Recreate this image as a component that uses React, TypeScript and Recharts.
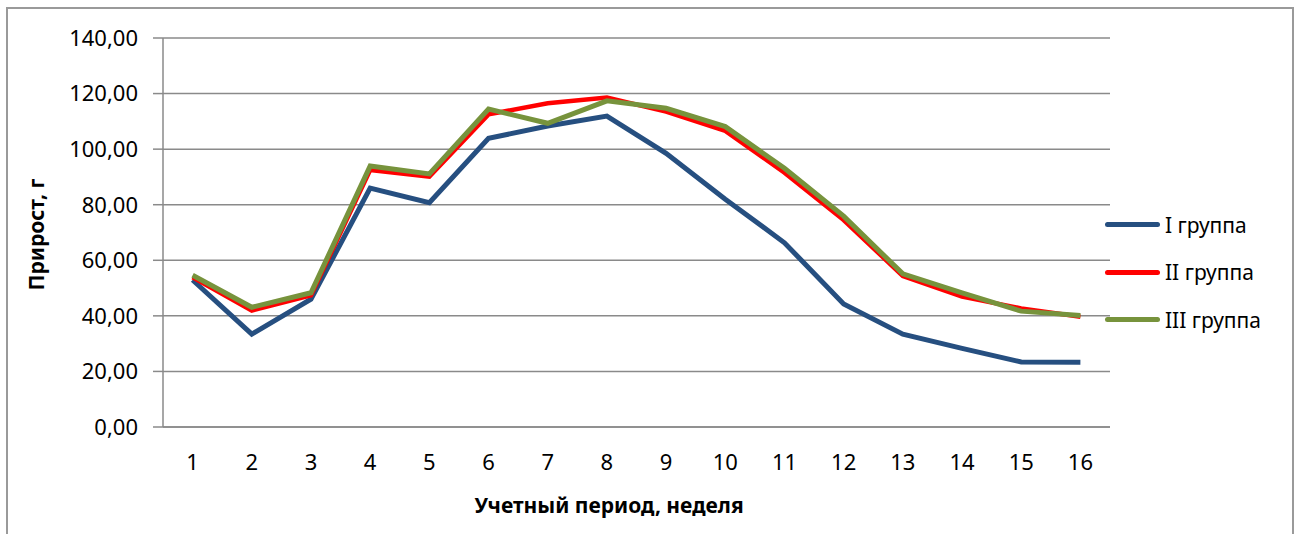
import { LineChart, Line, XAxis, YAxis, CartesianGrid } from 'recharts';

const weeks = ['1', '2', '3', '4', '5', '6', '7', '8', '9', '10', '11', '12', '13', '14', '15', '16'];
const group1 = [52.9, 33.4, 46.0, 86.0, 80.7, 103.9, 108.3, 111.9, 98.5, 82.0, 66.3, 44.3, 33.4, 28.3, 23.4, 23.3];
const group2 = [53.9, 41.9, 47.4, 92.5, 90.1, 112.5, 116.5, 118.6, 113.5, 106.6, 91.5, 74.5, 54.3, 46.9, 42.7, 39.7];
const group3 = [54.6, 43.1, 48.3, 93.9, 91.1, 114.4, 109.3, 117.4, 114.7, 108.1, 93.1, 75.9, 55.1, 48.3, 41.7, 40.1];
const yTicks = [0, 20, 40, 60, 80, 100, 120, 140];

const series = [
  { key: 'g1', name: 'I группа', color: '#264f80', width: 5 },
  { key: 'g2', name: 'II группа', color: '#ff0000', width: 4.5 },
  { key: 'g3', name: 'III группа', color: '#77933c', width: 5 },
];

const data = weeks.map((w, i) => ({ week: w, g1: group1[i], g2: group2[i], g3: group3[i] }));

const FONT = '"Noto Sans", sans-serif';
const GRID = '#8a8a8a';

function fmt(v: number) {
  return v.toFixed(2).replace('.', ',');
}

// legend drawn outside the chart so it doesn't shrink the plot area
function LegendBox() {
  return (
    <div style={{ position: 'absolute', left: 1105, top: 201, fontFamily: FONT, fontSize: 21, color: '#000' }}>
      {series.map((s) => (
        <div key={s.key} style={{ display: 'flex', alignItems: 'center', height: 47.5 }}>
          <div style={{ width: 55, height: 5, borderRadius: 3, background: s.color, marginRight: 5 }} />
          <span>{s.name}</span>
        </div>
      ))}
    </div>
  );
}

function YTitle(props: any) {
  const vb = props.viewBox || { y: 38, height: 389 };
  const cy = vb.y + vb.height / 2 + 2;
  return (
    <text x={36} y={cy} transform={`rotate(-90, 36, ${cy})`} textAnchor="middle" dominantBaseline="central"
      fontFamily={FONT} fontSize={21} fontWeight="bold" fill="#000">
      Прирост, г
    </text>
  );
}

function XTitle() {
  return (
    <text x={609} y={513} textAnchor="middle" fontFamily={FONT} fontSize={21} fontWeight="bold" fill="#000">
      Учетный период, неделя
    </text>
  );
}

export default function App() {
  return (
    <div style={{ position: 'absolute', left: 0, top: 0, width: 1297, height: 534, overflow: 'hidden', background: '#fff' }}>
      <div style={{ position: 'absolute', left: 6, top: 7, width: 1284, height: 560, border: '2px solid #9a9a9a' }} />
      <div style={{ position: 'absolute', left: 0, top: 0 }}>
        <LineChart width={1297} height={534} data={data} margin={{ top: 38, right: 187, bottom: 77, left: 0 }}>
          <CartesianGrid vertical={false} stroke={GRID} strokeWidth={1.5} />
          <XAxis
            dataKey="week"
            height={30}
            padding={{ left: 29.6, right: 29.6 }}
            axisLine={{ stroke: GRID, strokeWidth: 1.5 }}
            tickLine={false}
            tickSize={8}
            tickMargin={19}
            tick={{ fontFamily: FONT, fontSize: 22, fill: '#000' }}
            label={{ content: <XTitle /> }}
          />
          <YAxis
            width={163}
            domain={[0, 140]}
            ticks={yTicks}
            interval={0}
            tickFormatter={fmt}
            axisLine={{ stroke: GRID, strokeWidth: 1.5 }}
            tickLine={{ stroke: GRID, strokeWidth: 1.5 }}
            tickSize={10}
            tickMargin={15}
            tick={{ fontFamily: FONT, fontSize: 22, fill: '#000' }}
            label={{ content: <YTitle /> }}
          />
          {series.map((s) => (
            <Line
              key={s.key}
              type="linear"
              dataKey={s.key}
              name={s.name}
              stroke={s.color}
              strokeWidth={s.width}
              dot={false}
              activeDot={false}
              isAnimationActive={false}
            />
          ))}
        </LineChart>
      </div>
      <LegendBox />
    </div>
  );
}
